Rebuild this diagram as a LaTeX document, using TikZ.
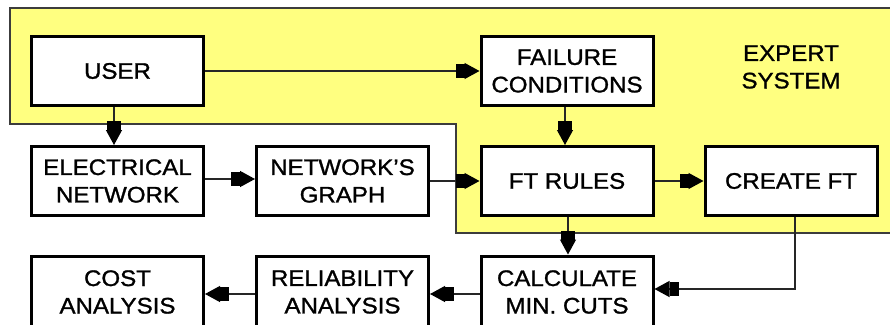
\documentclass[tikz,border=0pt]{standalone}
\usepackage{fontspec}
\setmainfont[FakeStretch=1.07,FakeBold=1.2]{Liberation Sans}
\usetikzlibrary{arrows.meta}
\definecolor{expertyellow}{RGB}{255,255,128}
\definecolor{edgegray}{RGB}{60,60,60}
\tikzset{
  blockbox/.style={draw=black, fill=white, line width=3pt, minimum width=172pt,
    minimum height=69pt, align=center, inner sep=0pt,
    font=\fontsize{22.5pt}{27.5pt}\selectfont},
  flow/.style={line width=1.3pt, draw=black!85,
    -{Rectangle[length=9pt,width=14pt,sep=0pt,black]Triangle[length=15pt,width=16pt,black]}},
  lbl/.style={align=center, inner sep=0pt, font=\fontsize{22.5pt}{27.5pt}\selectfont}
}
\begin{document}
\begin{tikzpicture}[x=1pt,y=-1pt]
\useasboundingbox (0,0) rectangle (890,324);
\clip (0,0) rectangle (890,324);
% expert system region
\fill[expertyellow] (10,8) -- (890,8) -- (890,233) -- (456,233) -- (456,124) -- (10,124) -- cycle;
\draw[edgegray, line width=1.2pt] (890,8) -- (10,8) -- (10,124) -- (456,124) -- (456,233) -- (890,233);
\node[lbl] (es) at (791,67) {EXPERT\\SYSTEM};
% blocks
\node[blockbox] (user) at (117.5,71) {USER};
\node[blockbox] (elec) at (117.5,181) {ELECTRICAL\\NETWORK};
\node[blockbox] (netg) at (342.5,181) {NETWORK{\char"0027}S\\GRAPH};
\node[blockbox] (fail) at (567,71) {FAILURE\\CONDITIONS};
\node[blockbox] (ftr) at (567,181) {FT RULES};
\node[blockbox] (cft) at (791,181) {CREATE FT};
\node[blockbox, minimum height=72pt] (cost) at (117.5,292) {COST\\ANALYSIS};
\node[blockbox, minimum height=72pt] (rel) at (342.5,292) {RELIABILITY\\ANALYSIS};
\node[blockbox, minimum height=72pt] (calc) at (567,292) {CALCULATE\\MIN. CUTS};
% connectors
\draw[flow] (user.east) -- (fail.west);
\draw[flow] ([xshift=-3.5pt]user.south) -- ([xshift=-3.5pt]elec.north);
\draw[flow] ([yshift=2pt]elec.east) -- ([yshift=2pt]netg.west);
\draw[flow] (netg.east) -- (ftr.west);
\draw[flow] ([xshift=-2pt]fail.south) -- ([xshift=-2pt]ftr.north);
\draw[flow] (ftr.east) -- (cft.west);
\draw[flow] ([xshift=1pt]ftr.south) -- ([xshift=1pt]calc.north);
\coordinate (bend) at ([xshift=4pt]cft.south |- 0,289);
\draw[flow] ([xshift=4pt]cft.south) -- (bend) -- (calc.east |- bend);
\draw[flow] ([yshift=-2pt]calc.west) -- ([yshift=-2pt]rel.east);
\draw[flow] ([yshift=-2pt]rel.west) -- ([yshift=-2pt]cost.east);
\end{tikzpicture}
\end{document}
